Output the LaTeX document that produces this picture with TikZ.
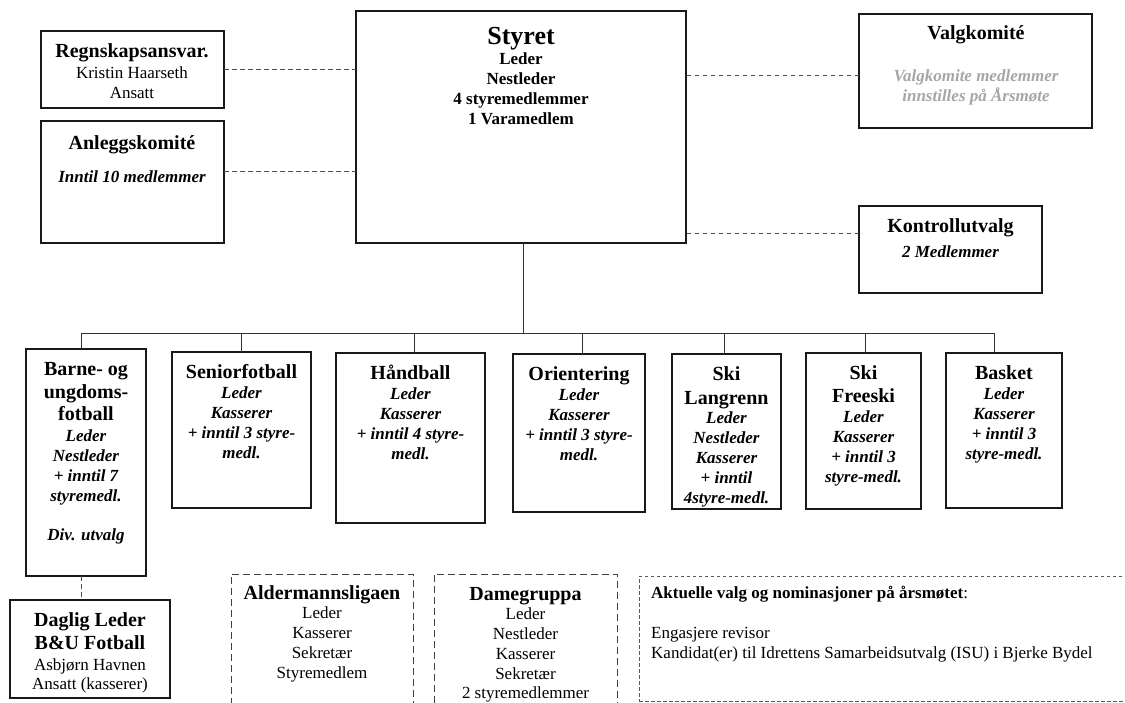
\documentclass[tikz,border=0pt]{standalone}
\usepackage{fontspec}
\setmainfont{Liberation Serif}
\definecolor{valggray}{RGB}{166,166,166}
\tikzset{
 box/.style={draw=black!90, line width=1.6pt, anchor=north west, inner sep=0pt, outer sep=0pt},
 dbox/.style={draw=black!75, line width=1pt, dash pattern=on 7pt off 4pt, anchor=north west, inner sep=0pt, outer sep=0pt},
 abox/.style={draw=black!65, line width=1pt, dash pattern=on 3.5pt off 2.5pt, anchor=north west, inner sep=0pt, outer sep=0pt},
 txt/.style={anchor=north, align=center, inner sep=0pt, font=\fontsize{17}{20}\selectfont},
 ltxt/.style={anchor=north, align=center, inner sep=0pt, font=\fontsize{17}{19.7}\selectfont},
 bus/.style={draw=black!80, line width=1pt},
 dconn/.style={draw=black!70, line width=1pt, dash pattern=on 4.5pt off 3.5pt},
}
\newcommand\fs{\rule{0pt}{16pt}}
\newcommand\ttl[1]{{\fontsize{20}{20}\selectfont\bfseries #1}}
\newcommand\bi[1]{{\bfseries\itshape #1}}
\begin{document}
\begin{tikzpicture}[x=1pt,y=-1pt]
\path[use as bounding box, clip] (0,0) rectangle (1125,702);

% boxes
\node[box, minimum width=183.3pt, minimum height=77pt] (regn) at (40.7,31) {};
\node[box, minimum width=183.3pt, minimum height=122pt] (anl) at (40.7,121) {};
\node[box, minimum width=330pt, minimum height=232pt] (sty) at (356,11) {};
\node[box, minimum width=233pt, minimum height=114pt] (valg) at (859,14) {};
\node[box, minimum width=183pt, minimum height=87pt] (kon) at (859,206) {};
\node[box, minimum width=120pt, minimum height=227pt] (bu) at (26,349) {};
\node[box, minimum width=139pt, minimum height=156pt] (sen) at (172,352) {};
\node[box, minimum width=149pt, minimum height=170pt] (hand) at (336,353) {};
\node[box, minimum width=132pt, minimum height=158pt] (ori) at (513,354) {};
\node[box, minimum width=109pt, minimum height=155pt] (lang) at (672,354) {};
\node[box, minimum width=115pt, minimum height=156pt] (free) at (806,353) {};
\node[box, minimum width=116pt, minimum height=155pt] (bask) at (946,353) {};
\node[box, minimum width=160pt, minimum height=98pt] (dag) at (10,600) {};
\node[dbox, minimum width=182pt, minimum height=150pt] (ald) at (231,574) {};
\node[dbox, minimum width=183pt, minimum height=150pt] (dame) at (434,574) {};
\node[abox, minimum width=491pt, minimum height=125pt] (akt) at (639,576) {};

% texts
\node[txt] (regn-t) at (132,41) {\ttl{\fs Regnskapsansvar.}\\[1pt] Kristin Haarseth\\ Ansatt};
\node[txt] (anl-t) at (132,133) {\ttl{\fs Anleggskomité}\\[13pt] \bi{Inntil 10 medlemmer}};
\node[txt] (sty-t) at (521,24) {{\fontsize{26}{26}\selectfont\bfseries\rule{0pt}{20pt}Styret}\\ \textbf{Leder}\\ \textbf{Nestleder}\\ \textbf{4 styremedlemmer}\\ \textbf{1 Varamedlem}};
\node[txt] (valg-t) at (976,23) {\ttl{\fs Valgkomité}\\[22pt] {\color{valggray}\bi{Valgkomite medlemmer}}\\ {\color{valggray}\bi{innstilles på Årsmøte}}};
\node[txt] (kon-t) at (950.5,216) {\ttl{\fs Kontrollutvalg}\\[5pt] \bi{2 Medlemmer}};
\node[txt] (bu-t) at (86,359) {\ttl{\fs Barne- og}\\[3pt] \ttl{ungdoms-}\\[2pt] \ttl{fotball}\\[1pt] \bi{Leder}\\ \bi{Nestleder}\\ \bi{+ inntil 7}\\ \bi{styremedl.}\\[19pt] \bi{Div. utvalg}};
\node[txt] (sen-t) at (241.5,362) {\ttl{\fs Seniorfotball}\\ \bi{Leder}\\ \bi{Kasserer}\\ \bi{+ inntil 3 styre-}\\ \bi{medl.}};
\node[txt] (hand-t) at (410.5,363) {\ttl{\fs Håndball}\\ \bi{Leder}\\ \bi{Kasserer}\\ \bi{+ inntil 4 styre-}\\ \bi{medl.}};
\node[txt] (ori-t) at (579,364) {\ttl{\fs Orientering}\\ \bi{Leder}\\ \bi{Kasserer}\\ \bi{+ inntil 3 styre-}\\ \bi{medl.}};
\node[txt] (lang-t) at (726.5,364) {\ttl{\fs Ski}\\[4pt] \ttl{Langrenn}\\[-1pt] \bi{Leder}\\ \bi{Nestleder}\\ \bi{Kasserer}\\ \bi{+ inntil}\\ \bi{4styre-medl.}};
\node[txt] (free-t) at (863.5,363) {\ttl{\fs Ski}\\[3pt] \ttl{Freeski}\\ \bi{Leder}\\ \bi{Kasserer}\\ \bi{+ inntil 3}\\ \bi{styre-medl.}};
\node[txt] (bask-t) at (1004,363) {\ttl{\fs Basket}\\ \bi{Leder}\\ \bi{Kasserer}\\ \bi{+ inntil 3}\\ \bi{styre-medl.}};
\node[txt] (dag-t) at (90,610) {\ttl{\fs Daglig Leder}\\[3pt] \ttl{B\&U Fotball}\\[1.5pt] Asbjørn Havnen\\[-1.5pt] Ansatt (kasserer)};
\node[ltxt] (ald-t) at (322,583) {\ttl{\fs Aldermannsligaen}\\ Leder\\ Kasserer\\ Sekretær\\ Styremedlem};
\node[ltxt] (dame-t) at (525.5,584) {\ttl{\fs Damegruppa}\\ Leder\\ Nestleder\\ Kasserer\\ Sekretær\\ 2 styremedlemmer};
\node[anchor=north west, align=left, inner sep=0pt, font=\fontsize{17}{20}\selectfont] (akt-t) at (651,582) {\textbf{\rule{0pt}{16pt}Aktuelle valg og nominasjoner på årsmøtet}:\\[20pt] Engasjere revisor\\ Kandidat(er) til Idrettens Samarbeidsutvalg (ISU) i Bjerke Bydel};

% dashed connectors
\draw[dconn] (regn.east) -- (regn.east -| sty.west);
\draw[dconn] ([yshift=11pt]anl.east) -- ([yshift=11pt]anl.east -| sty.west);
\draw[dconn] ([yshift=-4pt]valg.west) -- ([yshift=-4pt]valg.west -| sty.east);
\draw[dconn] ([yshift=16.5pt]kon.west) -- ([yshift=16.5pt]kon.west -| sty.east);

% bus
\coordinate (busL) at (81,333);
\coordinate (busR) at (994,333);
\draw[bus] (busL) -- (busR);
\draw[bus] ([xshift=2pt]sty.south) -- ([xshift=2pt]sty.south |- busL);
\draw[bus] (busL) -- (busL |- bu.north);
\draw[bus] (sen.north) -- (sen.north |- busL);
\draw[bus] ([xshift=3.5pt]hand.north) -- ([xshift=3.5pt]hand.north |- busL);
\draw[bus] ([xshift=3pt]ori.north) -- ([xshift=3pt]ori.north |- busL);
\draw[bus] ([xshift=-2.5pt]lang.north) -- ([xshift=-2.5pt]lang.north |- busL);
\draw[bus] ([xshift=1.5pt]free.north) -- ([xshift=1.5pt]free.north |- busL);
\draw[bus] (busR) -- (busR |- bask.north);
\draw[dconn] (busL |- bu.south) -- (busL |- dag.north);
\end{tikzpicture}
\end{document}
